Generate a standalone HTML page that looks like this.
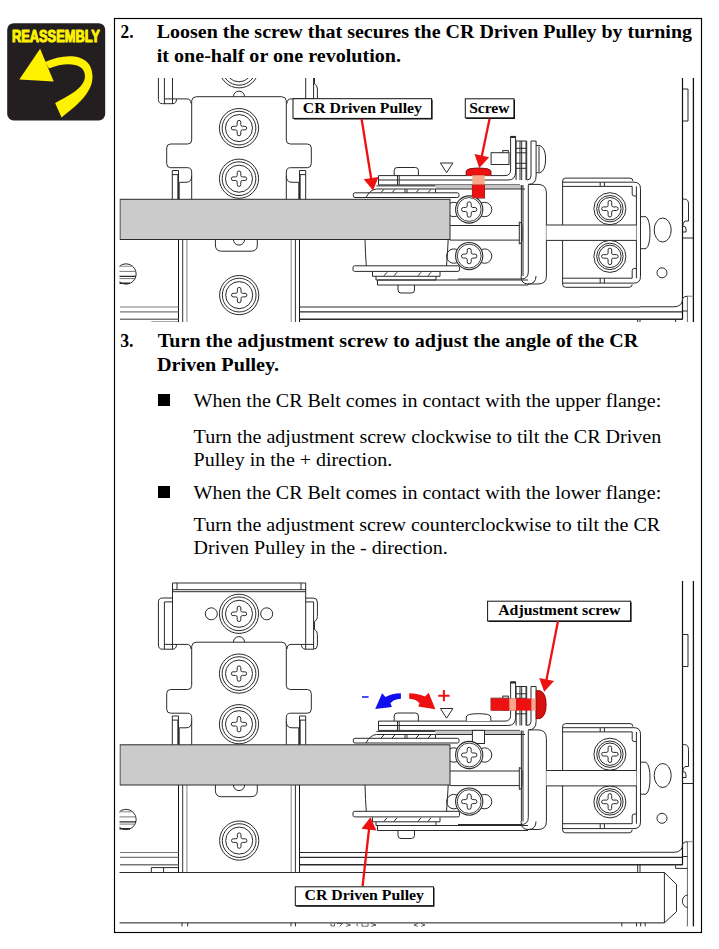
<!DOCTYPE html>
<html><head><meta charset="utf-8"><style>
html,body{margin:0;padding:0;background:#fff;width:719px;height:949px;overflow:hidden}
svg{display:block}
</style></head><body>
<svg width="719" height="949" viewBox="0 0 719 949">
<defs>
<clipPath id="c1"><rect x="119.5" y="78" width="580" height="244"/></clipPath>
<clipPath id="c2"><rect x="119.5" y="581" width="580" height="345.8"/></clipPath>
<g id="asm" fill="none" stroke="#2a2a2a" stroke-width="1">
<path d="M172.5,104 V37.5 H305.7 V104" />
<line x1="172.5" y1="44.2" x2="305.7" y2="44.2" />
<line x1="172.5" y1="46.2" x2="305.7" y2="46.2" />
<line x1="177" y1="37.5" x2="177" y2="44.2" />
<line x1="301" y1="37.5" x2="301" y2="44.2" />
<path d="M172.5,52.5 H162.5 Q158.4,52.5 158.4,56.5 V99.5 Q158.4,103.7 162.5,103.7 H172.5 Q176.5,103.7 176.5,99" />
<line x1="164.4" y1="56.4" x2="164.4" y2="103.7" />
<line x1="164.4" y1="56.4" x2="172.5" y2="56.4" />
<line x1="164.4" y1="98.9" x2="186.9" y2="98.9" />
<path d="M186.9,98.9 Q191,98.9 191,103.5" />
<path d="M305.7,52.6 H313.4 Q317.4,52.6 317.4,56.6 V71 Q317.4,75 314.5,76 V84 Q317.4,85.1 317.4,89 V99.7 Q317.4,103.7 313.4,103.7 H305.7 Q301.5,103.7 301.5,99" />
<line x1="313.6" y1="56.4" x2="313.6" y2="103.7" />
<line x1="305.7" y1="56.4" x2="313.6" y2="56.4" />
<line x1="313.6" y1="98.9" x2="291.1" y2="98.9" />
<path d="M291.1,98.9 Q287,98.9 287,103.5" />
<circle cx="239" cy="68.3" r="19.6"/><circle cx="239" cy="68.3" r="16.86"/><circle cx="239" cy="68.3" r="13.52"/><path d="M237.20,62.40 A1.8,1.8 0 0 1 240.80,62.40 V64.90 Q240.80,66.50 242.40,66.50 H244.90 A1.8,1.8 0 0 1 244.90,70.10 H242.40 Q240.80,70.10 240.80,71.70 V74.20 A1.8,1.8 0 0 1 237.20,74.20 V71.70 Q237.20,70.10 235.60,70.10 H233.10 A1.8,1.8 0 0 1 233.10,66.50 H235.60 Q237.20,66.50 237.20,64.90 Z"/>
<circle cx="211.3" cy="68.3" r="6"/><circle cx="266.7" cy="68.3" r="6"/>
<path d="M233.4,96.7 A5.6,5.6 0 0 1 244.6,96.7" />
<path d="M191.7,199.3 V172 Q191.7,167.7 187.5,167.7 H170.7 Q166.7,167.7 166.7,163.7 V148 Q166.7,144 170.7,144 H187.7 Q191.7,144 191.7,140 V100.7 Q192.2,96.7 196.4,96.7 H281.6 Q285.8,96.7 286.3,100.7 V140 Q286.3,144 290.3,144 H307.3 Q311.3,144 311.3,148 V163.7 Q311.3,167.7 307.3,167.7 H290.5 Q286.3,167.7 286.3,172 V199.3" />
<path d="M179.2,199.3 V182.3 H186 Q191.7,182.3 191.7,176" />
<path d="M172.3,199.3 V170.5 H178.5 V199.3" />
<line x1="172.3" y1="174.6" x2="178.5" y2="174.6" />
<line x1="178.1" y1="174.6" x2="178.1" y2="199.3" stroke-width="1.5"/>
<path d="M298.8,199.3 V182.3 H292.0 Q286.3,182.3 286.3,176" />
<path d="M305.7,199.3 V170.5 H299.5 V199.3" />
<line x1="305.7" y1="174.6" x2="299.5" y2="174.6" />
<line x1="299.9" y1="174.6" x2="299.9" y2="199.3" stroke-width="1.5"/>
<circle cx="239" cy="128.1" r="19.6"/><circle cx="239" cy="128.1" r="16.86"/><circle cx="239" cy="128.1" r="13.52"/><path d="M237.20,122.20 A1.8,1.8 0 0 1 240.80,122.20 V124.70 Q240.80,126.30 242.40,126.30 H244.90 A1.8,1.8 0 0 1 244.90,129.90 H242.40 Q240.80,129.90 240.80,131.50 V134.00 A1.8,1.8 0 0 1 237.20,134.00 V131.50 Q237.20,129.90 235.60,129.90 H233.10 A1.8,1.8 0 0 1 233.10,126.30 H235.60 Q237.20,126.30 237.20,124.70 Z"/>
<circle cx="239" cy="178.7" r="19.6"/><circle cx="239" cy="178.7" r="16.86"/><circle cx="239" cy="178.7" r="13.52"/><path d="M237.20,172.80 A1.8,1.8 0 0 1 240.80,172.80 V175.30 Q240.80,176.90 242.40,176.90 H244.90 A1.8,1.8 0 0 1 244.90,180.50 H242.40 Q240.80,180.50 240.80,182.10 V184.60 A1.8,1.8 0 0 1 237.20,184.60 V182.10 Q237.20,180.50 235.60,180.50 H233.10 A1.8,1.8 0 0 1 233.10,176.90 H235.60 Q237.20,176.90 237.20,175.30 Z"/>
<path d="M215.4,239.5 V245 Q215.4,251.2 221.6,251.2 H251 Q257.3,251.2 257.3,245 V239.5" />
<path d="M233.4,239.5 A5.6,5.6 0 0 0 244.6,239.5" />
<line x1="178.5" y1="239.5" x2="178.5" y2="327" stroke="#111"/>
<line x1="182.7" y1="239.5" x2="182.7" y2="327" stroke="#333"/>
<line x1="186.9" y1="239.5" x2="186.9" y2="327" stroke="#888"/>
<line x1="291.2" y1="239.5" x2="291.2" y2="327" stroke="#888"/>
<line x1="295.4" y1="239.5" x2="295.4" y2="327" stroke="#333"/>
<line x1="299.5" y1="239.5" x2="299.5" y2="327" stroke="#111"/>
<circle cx="239.2" cy="295.1" r="19.6"/><circle cx="239.2" cy="295.1" r="16.86"/><circle cx="239.2" cy="295.1" r="13.52"/><path d="M237.40,289.20 A1.8,1.8 0 0 1 241.00,289.20 V291.70 Q241.00,293.30 242.60,293.30 H245.10 A1.8,1.8 0 0 1 245.10,296.90 H242.60 Q241.00,296.90 241.00,298.50 V301.00 A1.8,1.8 0 0 1 237.40,301.00 V298.50 Q237.40,296.90 235.80,296.90 H233.30 A1.8,1.8 0 0 1 233.30,293.30 H235.80 Q237.40,293.30 237.40,291.70 Z"/>
<circle cx="126" cy="274" r="10.2"/>
<line x1="110" y1="266.3" x2="132.8" y2="266.3" stroke="#888"/>
<line x1="110" y1="271.4" x2="135.7" y2="271.4" stroke="#777"/>
<line x1="110" y1="276.4" x2="136" y2="276.4" stroke-width="1.4"/>
<line x1="110" y1="278.6" x2="135.3" y2="278.6" stroke="#777"/>
<line x1="110" y1="283.3" x2="130" y2="283.3" stroke-width="1.4"/>
<line x1="120" y1="307" x2="178.5" y2="307" stroke-width="1" stroke="#777"/>
<line x1="299.5" y1="307" x2="640" y2="307" stroke-width="1"/>
<line x1="120" y1="311.8" x2="178.5" y2="311.8" stroke-width="1.2" stroke="#777"/>
<line x1="299.5" y1="311.8" x2="682.7" y2="311.8" stroke-width="1.2"/>
<line x1="120" y1="319.3" x2="178.5" y2="319.3" stroke-width="1.6" stroke="#777"/>
<line x1="299.5" y1="319.3" x2="682.7" y2="319.3" stroke-width="1.6"/>
<rect x="353.3" y="192.8" width="105.7" height="4.7" rx="1.6"/>
<path d="M366,197.5 Q370,189.6 376.4,189 M376.4,189 H435.5 V192.8" />
<line x1="376.4" y1="185.9" x2="435.5" y2="185.9" />
<path d="M378.5,184.9 V175.6 H505 Q510.6,175.6 510.6,170 V136.4 H515.6 V172 Q515.6,180 508,180 H378.5" />
<line x1="378.5" y1="184.9" x2="520" y2="184.9" />
<line x1="397.5" y1="175.6" x2="397.5" y2="184.9" />
<line x1="399.2" y1="175.6" x2="399.2" y2="184.9" />
<path d="M394.2,175.6 V170.5 Q394.2,167.5 397.2,167.5 H415.4 Q418.4,167.5 418.4,170.5 V175.6" />
<rect x="435.5" y="185.2" width="87" height="3.6" fill="#c8c8c8" stroke="none"/>
<line x1="435.5" y1="189" x2="525" y2="189" />
<rect x="472.4" y="184.9" width="12.1" height="13.1" fill="#fff"/>
<line x1="381" y1="192.6" x2="384" y2="189.3" />
<line x1="392" y1="192.6" x2="395" y2="189.3" />
<line x1="416" y1="192.6" x2="419" y2="189.3" />
<line x1="428" y1="192.6" x2="431" y2="189.3" />
<line x1="405" y1="189" x2="405" y2="192.8" />
<line x1="407" y1="189" x2="407" y2="192.8" />
<path d="M365,239.5 Q365.4,255 366.3,265.8 M448.2,239.5 Q447.5,255 446.5,265.8" />
<rect x="353" y="265.8" width="106.5" height="5.6" rx="1.6"/>
<path d="M372.5,271.8 V276.3 H440 V271.8" />
<path d="M376,276.3 V280 H436 V276.3" />
<line x1="384" y1="275.8" x2="387" y2="272.3" />
<line x1="394" y1="275.8" x2="397" y2="272.3" />
<line x1="418" y1="275.8" x2="421" y2="272.3" />
<line x1="428" y1="275.8" x2="431" y2="272.3" />
<path d="M377.5,280 V285 H528 M377.5,280 H528" />
<path d="M398,285 V290 Q398,293 401,293 H411.5 Q414.5,293 414.5,290 V285" />
<circle cx="453.8" cy="209.5" r="7.2"/><circle cx="484.59999999999997" cy="209.5" r="7.2"/><circle cx="469.2" cy="209.5" r="13.6" fill="#fff" stroke-width="1.1"/><circle cx="469.2" cy="209.5" r="11.899999999999999" stroke-width="0.9"/><path d="M467.20,203.80 A2.0,2.0 0 0 1 471.20,203.80 V205.90 Q471.20,207.50 472.80,207.50 H474.90 A2.0,2.0 0 0 1 474.90,211.50 H472.80 Q471.20,211.50 471.20,213.10 V215.20 A2.0,2.0 0 0 1 467.20,215.20 V213.10 Q467.20,211.50 465.60,211.50 H463.50 A2.0,2.0 0 0 1 463.50,207.50 H465.60 Q467.20,207.50 467.20,205.90 Z"/>
<circle cx="453.8" cy="256.1" r="7.2"/><circle cx="484.59999999999997" cy="256.1" r="7.2"/><circle cx="469.2" cy="256.1" r="13.6" fill="#fff" stroke-width="1.1"/><circle cx="469.2" cy="256.1" r="11.899999999999999" stroke-width="0.9"/><path d="M467.20,250.40 A2.0,2.0 0 0 1 471.20,250.40 V252.50 Q471.20,254.10 472.80,254.10 H474.90 A2.0,2.0 0 0 1 474.90,258.10 H472.80 Q471.20,258.10 471.20,259.70 V261.80 A2.0,2.0 0 0 1 467.20,261.80 V259.70 Q467.20,258.10 465.60,258.10 H463.50 A2.0,2.0 0 0 1 463.50,254.10 H465.60 Q467.20,254.10 467.20,252.50 Z"/>
<line x1="450" y1="225.5" x2="519.3" y2="225.5" />
<line x1="450" y1="240.1" x2="519.3" y2="240.1" />
<path d="M519.3,222 Q522,222 522,226 V240 Q522,244 519.3,244 Z" />
<line x1="521.4" y1="185" x2="521.4" y2="276" />
<line x1="523" y1="185" x2="523" y2="276" />
<path d="M528.3,185 V272 Q528.3,279 521,279 H458" />
<path d="M528.3,184.4 H538 Q546.4,184.4 546.4,193 V276 Q546.4,284 538,284 H528" />
<path d="M521,276 Q521,284 528,284 Q536,284 536,276" />
<path d="M516.1,180 V141 H526.7 V180" />
<line x1="516.1" y1="148.3" x2="526.7" y2="148.3" />
<line x1="516.1" y1="152.8" x2="526.7" y2="152.8" />
<line x1="516.1" y1="163.3" x2="526.7" y2="163.3" />
<line x1="516.1" y1="168.3" x2="526.7" y2="168.3" />
<line x1="520" y1="141" x2="520" y2="180" />
<line x1="521.7" y1="141" x2="521.7" y2="180" />
<line x1="526" y1="141" x2="526" y2="180" />
<rect x="502.8" y="150.6" width="5.5" height="13.9" fill="#fff"/>
<line x1="510.6" y1="137" x2="515.6" y2="137" stroke-width="2.2"/>
<path d="M531,141 H536.1 V176 Q536.1,184.4 528.3,184.4" />
<path d="M531,141 V176 Q531,180 527,180" />
<path d="M536.1,145.6 H540 Q545.6,148 545.6,159 Q545.6,170.5 540,172.8 H536.1" />
<line x1="539" y1="146.5" x2="539" y2="172" />
<path d="M562.6,284.3 V181 Q562.6,178.1 565.6,178.1 H629.9 Q632.9,178.1 632.9,181" />
<path d="M562.6,284.3 Q562.6,287.3 565.6,287.3 H629.2 Q632.2,287.3 632.2,284.3" />
<path d="M562.6,182.2 H634 Q640.5,182.2 640.5,188.7 V276.6 Q640.5,283.1 634,283.1 H562.6" />
<line x1="562.6" y1="186.4" x2="632.2" y2="186.4" />
<line x1="562.6" y1="278.2" x2="632.2" y2="278.2" />
<line x1="636.4" y1="186.4" x2="636.4" y2="278.2" />
<path d="M632.2,186.4 V194 Q632.2,196 634.2,196 H636.4" />
<path d="M632.2,278.2 V270.5 Q632.2,268.5 634.2,268.5 H636.4" />
<line x1="600.2" y1="182.2" x2="600.2" y2="186.4" />
<line x1="600.2" y1="278.2" x2="600.2" y2="283.1" />
<line x1="604.4" y1="182.2" x2="604.4" y2="186.4" />
<line x1="604.4" y1="278.2" x2="604.4" y2="283.1" />
<circle cx="609.9" cy="208.7" r="16" fill="#fff"/><circle cx="609.9" cy="208.7" r="13.2"/><circle cx="609.9" cy="208.7" r="11.2"/><path d="M608.10,202.25 A1.8,1.8 0 0 1 611.70,202.25 V205.30 Q611.70,206.90 613.30,206.90 H616.35 A1.8,1.8 0 0 1 616.35,210.50 H613.30 Q611.70,210.50 611.70,212.10 V215.15 A1.8,1.8 0 0 1 608.10,215.15 V212.10 Q608.10,210.50 606.50,210.50 H603.45 A1.8,1.8 0 0 1 603.45,206.90 H606.50 Q608.10,206.90 608.10,205.30 Z"/>
<circle cx="609.9" cy="256.4" r="16" fill="#fff"/><circle cx="609.9" cy="256.4" r="13.2"/><circle cx="609.9" cy="256.4" r="11.2"/><path d="M608.10,249.95 A1.8,1.8 0 0 1 611.70,249.95 V253.00 Q611.70,254.60 613.30,254.60 H616.35 A1.8,1.8 0 0 1 616.35,258.20 H613.30 Q611.70,258.20 611.70,259.80 V262.85 A1.8,1.8 0 0 1 608.10,262.85 V259.80 Q608.10,258.20 606.50,258.20 H603.45 A1.8,1.8 0 0 1 603.45,254.60 H606.50 Q608.10,254.60 608.10,253.00 Z"/>
<rect x="546.4" y="225" width="90" height="15.4" fill="#fff" stroke="none"/>
<line x1="546.4" y1="225" x2="636.4" y2="225" />
<line x1="546.4" y1="240.4" x2="636.4" y2="240.4" />
<path d="M640.4,216.7 H646 Q650,220 650,232.7 Q650,245.4 646,248.7 H640.4" />
<ellipse cx="662.7" cy="230" rx="8.5" ry="12"/>
<circle cx="662" cy="272.8" r="5"/>
<line x1="693.4" y1="30" x2="693.4" y2="381" stroke-width="1.3" stroke="#111"/>
<line x1="682.5" y1="30" x2="682.5" y2="319.3" stroke-width="1.2" stroke="#111"/>
<line x1="687.4" y1="296.2" x2="687.4" y2="381" stroke="#666"/>
<path d="M687.4,296.2 H693.4" stroke="#888"/>
<path d="M687.4,296.2 Q684.5,296.2 682.7,298.2" />
<line x1="682.5" y1="311" x2="687.4" y2="311" />
<line x1="682.7" y1="238" x2="693.4" y2="238" />
<path d="M682.7,89 H688 V121 H682.7" />
<path d="M682.7,199.1 H684.5 Q688.5,199.1 688.5,204 V221 H685 Q682.7,223 682.7,226" />
<path d="M682.7,226 Q686,226 686,229 V232 H682.7" />
<path d="M640,306.8 H674 Q682.7,306.8 682.7,298" />
<path d="M466.3,175.4 V171.5 Q466.3,168.2 478.5,168.2 Q490.8,168.2 490.8,171.5 V175.4" fill="#fff"/>
<rect x="491.1" y="152.7" width="17.9" height="11.8" fill="#fff"/>
<path d="M440.4,163 H452.9 L446.6,172.7 Z" />
<path d="M100,327 H664.4 L676.5,339 V366.2 L664.4,377.3 H100" />
<line x1="664.4" y1="327" x2="664.4" y2="377.3" />
<line x1="120" y1="377.3" x2="664.4" y2="377.3" stroke="#777"/>
<line x1="182" y1="377.3" x2="182" y2="381" />
<line x1="187.7" y1="377.3" x2="187.7" y2="381" />
<line x1="291" y1="377.3" x2="291" y2="381" />
<line x1="295.4" y1="377.3" x2="295.4" y2="381" />
<line x1="621.8" y1="377.3" x2="621.8" y2="381" />
<line x1="636.5" y1="377.3" x2="636.5" y2="381" />
<line x1="640.7" y1="377.3" x2="640.7" y2="381" />
<line x1="645.2" y1="377.3" x2="645.2" y2="381" />
<path d="M687.6,349.5 A5.2,6.2 0 0 0 687.6,361.9" />
<path d="M331,377.8 V380.5 H334.5 V377.8 M337,378 H342.5 L339.5,381 M346,377.8 L350.5,379.5 L346,381 M358,377.8 Q355.5,379.5 358,381 M362,377.8 V380.8 H368 V377.8 M371,377.8 L376,379.5 L371,381 M418,377.8 L414,379.5 L418,381 M421,377.8 L425,379.5 L421,381" stroke="#555"/>
<path d="M151.3,327 V322.1 H178.5 M163.6,322.1 V327" />
<line x1="637.7" y1="319.5" x2="637.7" y2="327" />
<line x1="640" y1="319.5" x2="640" y2="327" />
<path d="M675.6,320 V322.9 H687.6" />
</g>
</defs>

<rect x="7.2" y="23.2" width="98" height="97.2" rx="6.5" fill="#231f20"/>
<text x="11.9" y="42.1" font-family="Liberation Sans" font-weight="bold" font-size="16.4" textLength="88" lengthAdjust="spacingAndGlyphs" fill="#fff200" stroke="#fff200" stroke-width="1.1" stroke-linejoin="round">REASSEMBLY</text>
<path d="M19.3,79.5 L40.1,48.7 L53.7,81.6 Z" fill="#fff200"/>
<path d="M45,62 C64,53 92,52 92.5,76 C93,93 76,106 61.6,117.4 L55.1,103 C68,96 85,88 85,76 C84.5,62 65,62 49,68.5 Z" fill="#fff200"/>

<rect x="114.5" y="18.5" width="587" height="914" fill="none" stroke="#000" stroke-width="1.15"/>
<g font-family="Liberation Serif" fill="#000">
<text x="120.5" y="37.9" font-weight="bold" font-size="19.0" textLength="13.0" lengthAdjust="spacingAndGlyphs">2.</text><text x="156.7" y="37.9" font-weight="bold" font-size="19.0" textLength="535.3" lengthAdjust="spacingAndGlyphs">Loosen the screw that secures the CR Driven Pulley by turning</text><text x="156.7" y="61.5" font-weight="bold" font-size="19.0" textLength="244.4" lengthAdjust="spacingAndGlyphs">it one-half or one revolution.</text><text x="120.2" y="346.9" font-weight="bold" font-size="19.0" textLength="13.3" lengthAdjust="spacingAndGlyphs">3.</text><text x="157.8" y="346.8" font-weight="bold" font-size="19.0" textLength="480.40000000000003" lengthAdjust="spacingAndGlyphs">Turn the adjustment screw to adjust the angle of the CR</text><text x="156.9" y="370.8" font-weight="bold" font-size="19.0" textLength="122.2" lengthAdjust="spacingAndGlyphs">Driven Pulley.</text><text x="193.6" y="407.3" font-weight="normal" font-size="18.5" textLength="467.70000000000005" lengthAdjust="spacingAndGlyphs">When the CR Belt comes in contact with the upper flange:</text><text x="193.6" y="442.90000000000003" font-weight="normal" font-size="18.5" textLength="467.6" lengthAdjust="spacingAndGlyphs">Turn the adjustment screw clockwise to tilt the CR Driven</text><text x="193.6" y="466.3" font-weight="normal" font-size="18.5" textLength="198.6" lengthAdjust="spacingAndGlyphs">Pulley in the + direction.</text><text x="193.6" y="499.20000000000005" font-weight="normal" font-size="18.5" textLength="467.70000000000005" lengthAdjust="spacingAndGlyphs">When the CR Belt comes in contact with the lower flange:</text><text x="193.6" y="531.2" font-weight="normal" font-size="18.5" textLength="466.6" lengthAdjust="spacingAndGlyphs">Turn the adjustment screw counterclockwise to tilt the CR</text><text x="193.6" y="554.2" font-weight="normal" font-size="18.5" textLength="254.2" lengthAdjust="spacingAndGlyphs">Driven Pulley in the - direction.</text>
</g>
<rect x="158" y="394" width="12" height="12" fill="#000"/>
<rect x="158" y="486" width="12" height="12" fill="#000"/>
<!-- diagram 1 -->
<g clip-path="url(#c1)">
<use href="#asm"/>
<rect x="120" y="199.3" width="330" height="40.2" fill="#cbcbcb" stroke="#2a2a2a" stroke-width="1"/>
<rect x="293" y="98.7" width="138.60000000000002" height="19.700000000000003" fill="#fff" stroke="#111" stroke-width="1"/><path d="M294,118.80000000000001 H432.0 V99.7" stroke="#111" stroke-width="1.2" fill="none"/><text x="302.8" y="112.6" font-family="Liberation Serif" font-weight="bold" font-size="15.2" textLength="119.1" lengthAdjust="spacingAndGlyphs" fill="#000">CR Driven Pulley</text><rect x="465.3" y="98.8" width="48.69999999999999" height="19.10000000000001" fill="#fff" stroke="#111" stroke-width="1"/><path d="M466.3,118.30000000000001 H514.4 V99.8" stroke="#111" stroke-width="1.2" fill="none"/><text x="469.2" y="112.6" font-family="Liberation Serif" font-weight="bold" font-size="15.2" textLength="40.3" lengthAdjust="spacingAndGlyphs" fill="#000">Screw</text><line x1="361.6" y1="119" x2="371.4" y2="180.0" stroke="#ee1111" stroke-width="2.3"/><path d="M373.1,190.4 L363.7,179.3 L378.5,176.9 Z" fill="#ee1111" stroke="none"/><line x1="489.6" y1="118.8" x2="481.5" y2="157.6" stroke="#ee1111" stroke-width="2.3"/><path d="M479.3,167.9 L474.5,154.1 L489.2,157.2 Z" fill="#ee1111" stroke="none"/><path d="M466.3,175.3 V171.6 Q466.3,168.2 478.5,168.2 Q490.8,168.2 490.8,171.6 V175.3 Z" fill="#ee1111" stroke="#a00" stroke-width="0.8"/><rect x="472.3" y="175.3" width="12.4" height="9.4" fill="#f7a88c"/><rect x="472.3" y="184.7" width="12.4" height="13.2" fill="#ee1111"/>
</g>
<!-- diagram 2 -->
<g clip-path="url(#c2)">
<g transform="translate(0,545.5)"><use href="#asm"/>
<rect x="120" y="199.3" width="330" height="40.2" fill="#cbcbcb" stroke="#2a2a2a" stroke-width="1"/>
</g>
<rect x="487.6" y="601.2" width="143.0" height="19.799999999999955" fill="#fff" stroke="#111" stroke-width="1"/><path d="M488.6,621.4 H631.0 V602.2" stroke="#111" stroke-width="1.2" fill="none"/><text x="498.2" y="615" font-family="Liberation Serif" font-weight="bold" font-size="15.2" textLength="122.2" lengthAdjust="spacingAndGlyphs" fill="#000">Adjustment screw</text><rect x="295.3" y="886.8" width="138.2" height="18.90000000000009" fill="#fff" stroke="#111" stroke-width="1"/><path d="M296.3,906.1 H433.9 V887.8" stroke="#111" stroke-width="1.2" fill="none"/><text x="304.5" y="899.6" font-family="Liberation Serif" font-weight="bold" font-size="15.2" textLength="119.5" lengthAdjust="spacingAndGlyphs" fill="#000">CR Driven Pulley</text><line x1="558" y1="621" x2="546.2" y2="681.4" stroke="#ee1111" stroke-width="2.3"/><path d="M544.2,691.7 L539.2,678.0 L554.0,680.9 Z" fill="#ee1111" stroke="none"/><line x1="362.6" y1="886" x2="369.2" y2="827.6" stroke="#ee1111" stroke-width="2.3"/><path d="M370.4,817.2 L376.4,830.5 L361.5,828.8 Z" fill="#ee1111" stroke="none"/><rect x="490.9" y="698.4" width="40.6" height="12.2" fill="#ee1111"/><rect x="509.3" y="698.4" width="6.7" height="12.2" fill="#f7a88c"/><rect x="531.5" y="698.4" width="5" height="12.2" fill="#f7a88c"/><path d="M536.2,690.7 H540 Q546.2,693 546.2,704.5 Q546.2,716 540,718.6 H536.2 Z" fill="#d81010" stroke="#900" stroke-width="0.8"/><line x1="362" y1="697" x2="368.6" y2="697" stroke="#1010ee" stroke-width="1.6"/><path d="M438.2,695.8 H449.6 M443.9,690 V701.2" stroke="#ee1111" stroke-width="2"/><path d="M400.9,693.2 V698.8 C396,699.2 392.5,700.5 390.5,703.2 L391.9,707.1 L375.2,708.9 L382.1,693.2 L385.5,697 C389.5,694.5 395,693.4 400.9,693.2 Z" fill="#1010ee"/><path d="M409.2,693.2 V698.8 C414,699.2 417.5,700.5 419.5,703.2 L418.3,706.4 L435.4,709.2 L428.7,692.8 L425,696.5 C421,694.3 415,693.4 409.2,693.2 Z" fill="#ee1111"/>
</g>
</svg>
</body></html>
